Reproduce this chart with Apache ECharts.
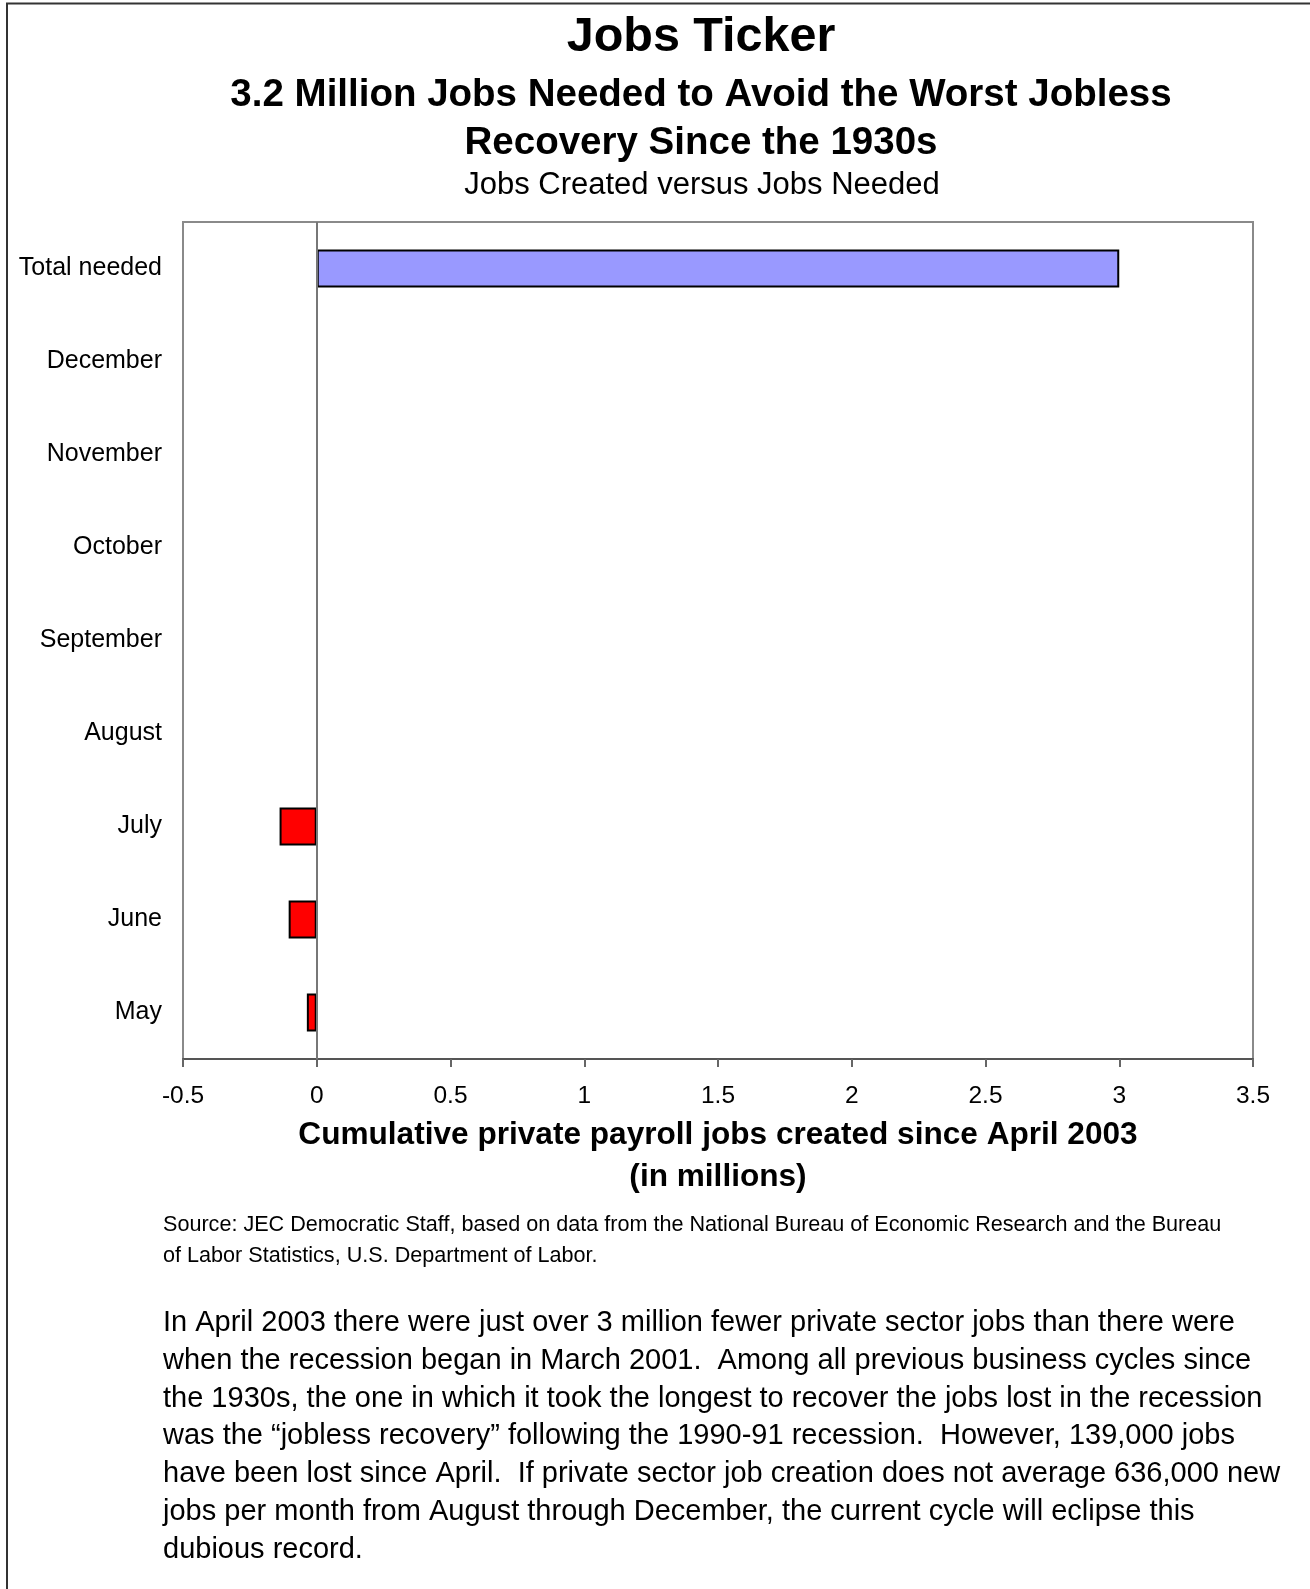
<!DOCTYPE html>
<html>
<head>
<meta charset="utf-8">
<title>Jobs Ticker</title>
<script src="https://cdn.jsdelivr.net/npm/echarts@6/dist/echarts.min.js"></script>
<style>
  html, body { margin: 0; padding: 0; background: #fff; }
  #chart { width: 1310px; height: 1589px; }
</style>
</head>
<body>
<div id="chart"></div>
<script>
// categories top to bottom, as on the chart
var categories = ['Total needed', 'December', 'November', 'October', 'September', 'August', 'July', 'June', 'May'];
// cumulative private payroll jobs since April 2003, millions (empty months not reported yet)
var jobValues = [3.0, null, null, null, null, null, -0.139, -0.105, -0.037];
var xMin = -0.5, xMax = 3.5, xStep = 0.5;

var sourceLines = [
  'Source: JEC Democratic Staff, based on data from the National Bureau of Economic Research and the Bureau',
  'of Labor Statistics, U.S. Department of Labor.'
];
var noteLines = [
  'In April 2003 there were just over 3 million fewer private sector jobs than there were',
  'when the recession began in March 2001.  Among all previous business cycles since',
  'the 1930s, the one in which it took the longest to recover the jobs lost in the recession',
  'was the \u201cjobless recovery\u201d following the 1990-91 recession.  However, 139,000 jobs',
  'have been lost since April.  If private sector job creation does not average 636,000 new',
  'jobs per month from August through December, the current cycle will eclipse this',
  'dubious record.'
];

var FONT = '"Liberation Sans", Arial, Helvetica, sans-serif';
var myChart = echarts.init(document.getElementById('chart'));

var option = {
  backgroundColor: '#fff',
  animation: false,
  textStyle: { fontFamily: FONT, color: '#000' },
  grid: {
    left: 183, top: 222, width: 1070, height: 837,
    show: true,
    borderColor: '#8a8a8a',
    borderWidth: 2,
    backgroundColor: '#fff'
  },
  xAxis: {
    type: 'value',
    min: xMin,
    max: xMax,
    interval: xStep,
    name: 'Cumulative private payroll jobs created since April 2003\n(in millions)',
    nameLocation: 'middle',
    nameGap: 51,
    nameTextStyle: { fontFamily: FONT, fontWeight: 'bold', fontSize: 31.6, color: '#000', lineHeight: 42 },
    axisLine: { show: true, lineStyle: { color: '#555', width: 2 } },
    axisTick: { show: true, inside: false, length: 8, lineStyle: { color: '#666', width: 2 } },
    axisLabel: { fontSize: 24.5, color: '#000', margin: 25, fontFamily: FONT },
    splitLine: { show: false }
  },
  yAxis: {
    type: 'category',
    data: categories,
    inverse: true,
    axisLine: { show: false },
    axisTick: { show: false },
    axisLabel: { fontSize: 25, color: '#000', margin: 21, fontFamily: FONT },
    splitLine: { show: false }
  },
  series: [{
    type: 'bar',
    data: jobValues,
    barWidth: 38,
    itemStyle: {
      color: function (p) { return p.value < 0 ? '#ff0000' : '#9999ff'; },
      borderColor: '#000',
      borderWidth: 2
    },
    markLine: {
      silent: true,
      symbol: 'none',
      label: { show: false },
      lineStyle: { color: '#777', width: 2, type: 'solid' },
      data: [{ xAxis: 0 }]
    },
    z: 3
  }],
  graphic: [
    { type: 'rect', shape: { x: 7, y: 3.5, width: 1400, height: 1700 }, style: { fill: 'none', stroke: '#333', lineWidth: 2 }, silent: true },
    { type: 'text', x: 701, y: 38, style: { text: 'Jobs Ticker', font: 'bold 48.5px ' + FONT, fill: '#000', textAlign: 'center', textVerticalAlign: 'middle' } },
    { type: 'text', x: 701, y: 95, style: { text: '3.2 Million Jobs Needed to Avoid the Worst Jobless', font: 'bold 38.5px ' + FONT, fill: '#000', textAlign: 'center', textVerticalAlign: 'middle' } },
    { type: 'text', x: 701, y: 143, style: { text: 'Recovery Since the 1930s', font: 'bold 38.5px ' + FONT, fill: '#000', textAlign: 'center', textVerticalAlign: 'middle' } },
    { type: 'text', x: 702, y: 185, style: { text: 'Jobs Created versus Jobs Needed', font: '31px ' + FONT, fill: '#000', textAlign: 'center', textVerticalAlign: 'middle' } },
    { type: 'text', x: 163, y: 1210, style: { text: sourceLines.join('\n'), font: '21.6px ' + FONT, lineHeight: 30.5, fill: '#000', textAlign: 'left', textVerticalAlign: 'top' } },
    { type: 'text', x: 163, y: 1304, style: { text: noteLines.join('\n'), font: '29px ' + FONT, lineHeight: 37.8, fill: '#000', textAlign: 'left', textVerticalAlign: 'top' } }
  ]
};

myChart.setOption(option);
</script>
</body>
</html>
